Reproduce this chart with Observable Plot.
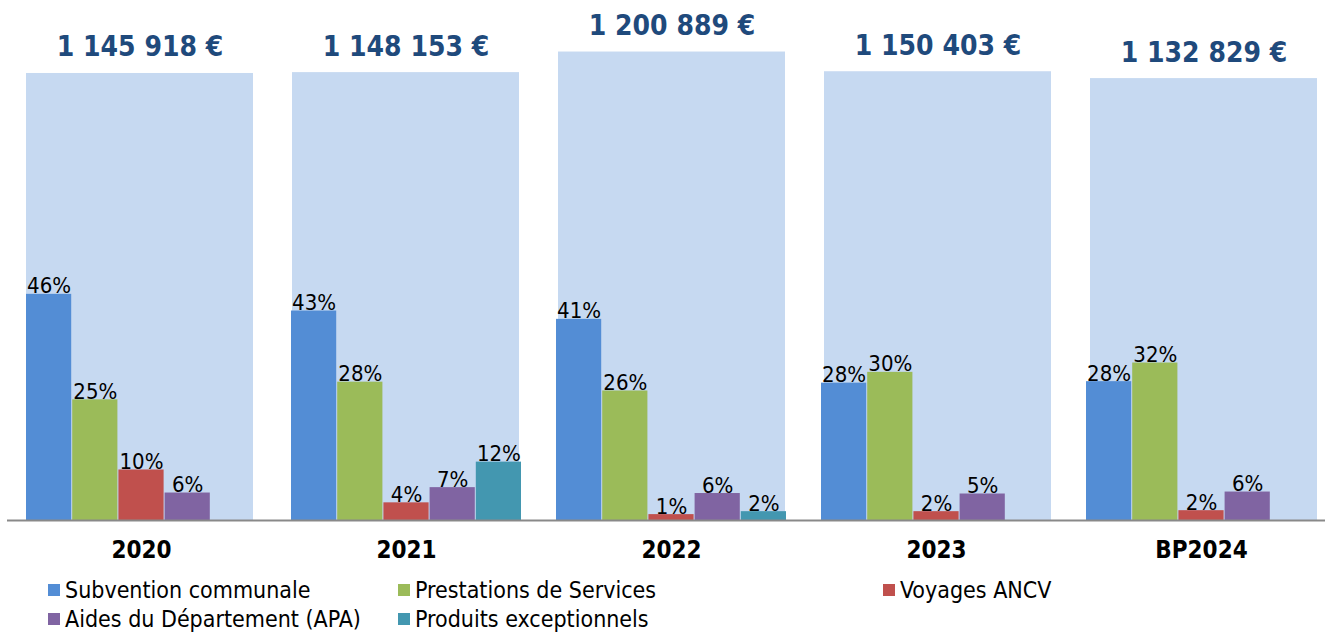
<!DOCTYPE html>
<html>
<head>
<meta charset="utf-8">
<script src="https://cdn.jsdelivr.net/npm/d3@7"></script>
<script src="https://cdn.jsdelivr.net/npm/@observablehq/plot@0.6"></script>
<style>
  html, body { margin: 0; padding: 0; background: #fff; }
  #chart { position: relative; width: 1325px; height: 634px; overflow: hidden; }
  #chart .layer { position: absolute; left: 0; top: 0; }
  .legend { position: absolute; left: 48px; top: 575px; display: grid;
    grid-template-columns: 350px 485px auto; grid-auto-rows: 29px;
    font-family: "DejaVu Sans Condensed", "DejaVu Sans", sans-serif; font-stretch: condensed;
    font-size: 23px; color: #000; }
  .legend span { display: flex; align-items: center; white-space: nowrap; }
  .legend i { display: inline-block; width: 12px; height: 12px; margin-right: 5px; }
</style>
</head>
<body>
<div id="chart"></div>
<script>
const years = ["2020", "2021", "2022", "2023", "BP2024"];
const totals = [1145918, 1148153, 1200889, 1150403, 1132829];
const series = ["Subvention communale", "Prestations de Services", "Voyages ANCV", "Aides du Département (APA)", "Produits exceptionnels"];
const colors = ["#538DD5", "#9BBB59", "#C0504D", "#8064A2", "#4397B0"];
const subvention = [46.1, 42.7, 41.0, 28.0, 28.3];
const prestations = [24.6, 28.2, 26.4, 30.2, 32.1];
const voyages = [10.3, 3.6, 1.2, 1.8, 2.0];
const aides = [5.6, 6.7, 5.5, 5.4, 5.8];
const produits = [null, 11.9, 1.8, null, null];

const seriesValues = [subvention, prestations, voyages, aides, produits];
const rows = years.flatMap((year, i) =>
  series.map((s, j) => ({year, series: s, value: seriesValues[j][i]}))
).filter(d => d.value != null);
const totalRows = years.map((year, i) => ({year, total: totals[i]}));

const FONT = '"DejaVu Sans Condensed", "DejaVu Sans", sans-serif';
const W = 1325, H = 575, MB = 55;

const fmtTotal = v => d3.format(",")(v).replace(/,/g, " ") + " €";

const back = Plot.plot({
  width: W, height: H, marginTop: 0, marginBottom: MB, marginLeft: 0, marginRight: 0,
  style: {fontFamily: FONT, background: "transparent", overflow: "visible"},
  x: {domain: years, range: [-13, 1356], padding: 0.1466, axis: null},
  y: {domain: [0, 1333000], axis: null},
  marks: [
    Plot.barY(totalRows, {x: "year", y: "total", fill: "#C6D9F1"}),
    Plot.text(totalRows, {x: "year", y: "total", text: d => fmtTotal(d.total), dy: -26,
      fontSize: 28, fontWeight: "bold", fill: "#1F4A7C", fontStretch: "condensed"})
  ]
});
back.classList.add("layer");

// group scale for the small bars: each year's band is split into one slot per series
const xFront = {type: "band", domain: years, range: [-11, 1354], padding: 0.1316};
const slot = Plot.scale({x: xFront}).bandwidth / series.length;

const seriesMarks = series.flatMap((s, j) => {
  const data = rows.filter(d => d.series === s);
  return [
    Plot.barY(data, {x: "year", y: "value", fill: colors[j],
      insetLeft: j * slot, insetRight: (series.length - 1 - j) * slot}),
    Plot.text(data, {x: "year", y: "value", text: d => Math.round(d.value) + "%",
      dx: (j - (series.length - 1) / 2) * slot,
      lineAnchor: "bottom", dy: -1, fontSize: 22, fill: "#000", fontStretch: "condensed"})
  ];
});

const front = Plot.plot({
  width: W, height: H, marginTop: 0, marginBottom: MB, marginLeft: 0, marginRight: 0,
  style: {fontFamily: FONT, background: "transparent", overflow: "visible"},
  x: {...xFront, axis: null},
  y: {domain: [0, 106], axis: null},
  marks: [
    ...seriesMarks,
    Plot.text(years, {x: d => d, text: d => d, frameAnchor: "bottom", dy: 37,
      fontSize: 24, fontWeight: "bold", fill: "#000", fontStretch: "condensed"}),
    Plot.ruleY([0], {stroke: "#898989", strokeWidth: 2, insetLeft: 7})
  ]
});
front.classList.add("layer");

const chart = document.getElementById("chart");
chart.append(back, front);

const legend = document.createElement("div");
legend.className = "legend";
series.forEach((s, j) => {
  const item = document.createElement("span");
  const sw = document.createElement("i");
  sw.style.background = colors[j];
  item.append(sw, document.createTextNode(s));
  legend.append(item);
});
chart.append(legend);
</script>
</body>
</html>
